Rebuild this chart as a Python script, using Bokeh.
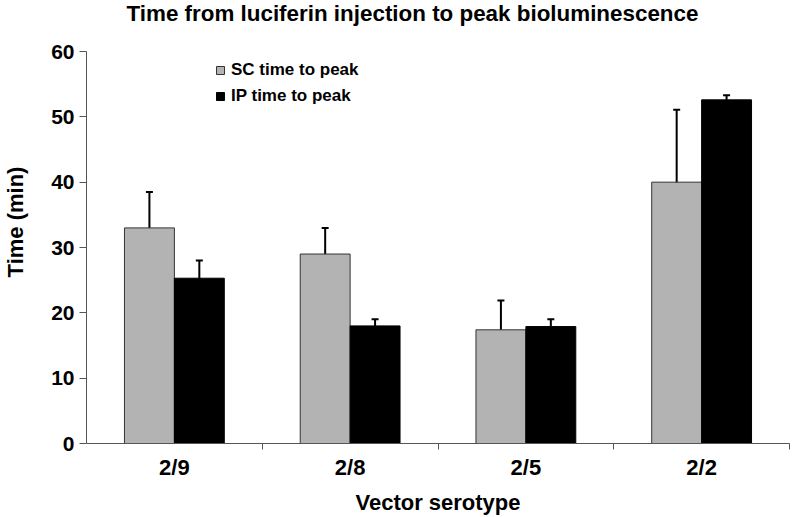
from bokeh.plotting import figure
from bokeh.models import (ColumnDataSource, Whisker, TeeHead, FixedTicker,
                          Legend, LegendItem, Range1d, Label)
from bokeh.embed import file_html
from bokeh.resources import INLINE

# ---- data ----
categories = ["2/9", "2/8", "2/5", "2/2"]
sc_time = [33.0, 29.0, 17.4, 40.0]
sc_err = [5.5, 4.0, 4.5, 11.1]
ip_time = [25.3, 18.0, 17.9, 52.6]
ip_err = [2.7, 1.0, 1.1, 0.7]
y_ticks = [0, 10, 20, 30, 40, 50, 60]
title_text = "Time from luciferin injection to peak bioluminescence"

bar_w = 0.284
centers = [i + 0.5 for i in range(len(categories))]
boundaries = [i + 1 for i in range(len(categories))]

sc_src = ColumnDataSource(dict(
    x=[c - bar_w / 2 for c in centers], top=sc_time,
    upper=[v + e for v, e in zip(sc_time, sc_err)],
    lower=[v - e for v, e in zip(sc_time, sc_err)]))
ip_src = ColumnDataSource(dict(
    x=[c + bar_w / 2 for c in centers], top=ip_time,
    upper=[v + e for v, e in zip(ip_time, ip_err)],
    lower=[v - e for v, e in zip(ip_time, ip_err)]))

SANS = "Liberation Sans"
AXIS_COL = "#555555"

# layout geometry (pixels)
W, H = 792, 517
B_LEFT, B_RIGHT, B_BOTTOM = 85, 3, 74
AXIS_TOP_PX = 51                      # where the top tick (60) sits
frame_h = H - B_BOTTOM
y_end = y_ticks[-1] * frame_h / (frame_h - AXIS_TOP_PX)   # headroom for the title

p = figure(width=W, height=H, output_backend="svg", toolbar_location=None,
           x_range=Range1d(0, len(categories)), y_range=Range1d(y_ticks[0], y_end),
           min_border_left=B_LEFT, min_border_right=B_RIGHT, min_border_top=0,
           min_border_bottom=B_BOTTOM)
p.outline_line_color = None
p.xgrid.visible = False
p.ygrid.visible = False

sc_r = p.vbar(x="x", top="top", width=bar_w, bottom=0, source=sc_src,
              fill_color="#b3b3b3", line_color="#333333", line_width=1)
ip_r = p.vbar(x="x", top="top", width=bar_w, bottom=0, source=ip_src,
              fill_color="#000000", line_color="#000000", line_width=1)

for src in (sc_src, ip_src):
    w = Whisker(source=src, base="x", upper="upper", lower="lower", dimension="height",
                line_color="black", line_width=2,
                upper_head=TeeHead(size=7, line_width=2, line_color="black"),
                lower_head=TeeHead(size=7, line_width=2, line_color="black"))
    p.add_layout(w)

# chart title (screen units, measured from the frame's bottom-left)
title = Label(x=40, y=frame_h - 13, x_units="screen", y_units="screen", text=title_text,
              text_font=SANS, text_font_style="bold", text_font_size="22.4px",
              text_color="black", text_baseline="alphabetic", text_align="left")
p.add_layout(title)

# x axis
xa = p.xaxis[0]
xa.ticker = FixedTicker(ticks=centers, minor_ticks=boundaries)
xa.major_label_overrides = {c: cat for c, cat in zip(centers, categories)}
xa.major_tick_line_color = None
xa.major_tick_out = 0
xa.major_tick_in = 0
xa.minor_tick_line_color = AXIS_COL
xa.minor_tick_out = 6
xa.minor_tick_in = 0
xa.axis_line_color = AXIS_COL
xa.major_label_standoff = 5
xa.major_label_text_font = SANS
xa.major_label_text_font_style = "bold"
xa.major_label_text_font_size = "22px"
xa.major_label_text_color = "black"
xa.axis_label = "Vector serotype"
xa.axis_label_text_font = SANS
xa.axis_label_text_font_style = "bold"
xa.axis_label_text_font_size = "22px"
xa.axis_label_text_color = "black"
xa.axis_label_standoff = 7

# y axis
ya = p.yaxis[0]
ya.ticker = FixedTicker(ticks=y_ticks)
ya.bounds = (y_ticks[0], y_ticks[-1])
ya.minor_tick_line_color = None
ya.major_tick_out = 7
ya.major_tick_in = 0
ya.major_tick_line_color = AXIS_COL
ya.axis_line_color = AXIS_COL
ya.major_label_standoff = 5
ya.major_label_text_font = SANS
ya.major_label_text_font_style = "bold"
ya.major_label_text_font_size = "21px"
ya.major_label_text_color = "black"
ya.axis_label = "Time (min)"
ya.axis_label_text_font = SANS
ya.axis_label_text_font_style = "bold"
ya.axis_label_text_font_size = "22px"
ya.axis_label_text_color = "black"
ya.axis_label_standoff = 20

legend = Legend(items=[LegendItem(label="SC time to peak", renderers=[sc_r]),
                       LegendItem(label="IP time to peak", renderers=[ip_r])],
                location=(129, 337), orientation="vertical",
                glyph_width=10, glyph_height=10, label_height=20, spacing=6,
                padding=0, margin=0, label_standoff=6,
                border_line_color=None, background_fill_alpha=0,
                label_text_font=SANS, label_text_font_style="bold",
                label_text_font_size="17px", label_text_color="black")
p.add_layout(legend, "center")

with open("out.html", "w") as f:
    f.write(file_html(p, INLINE))
